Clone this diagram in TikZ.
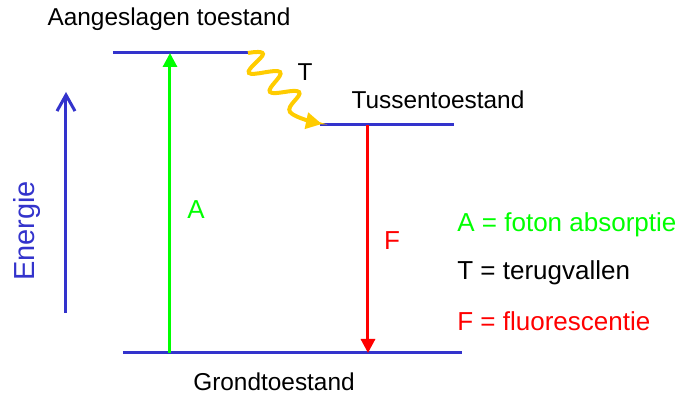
\documentclass[tikz,border=0pt]{standalone}
\usepackage{fontspec}
\setmainfont{Liberation Sans}
\usetikzlibrary{arrows.meta}
\definecolor{niveaublauw}{RGB}{51,51,204}
\definecolor{geel}{RGB}{255,204,0}

\begin{document}
\begin{tikzpicture}[x=0.5pt, y=-0.5pt,
    niveau/.style={niveaublauw, line width=1.5pt},
    label/.style={font=\fontsize{12.2}{14}\selectfont, inner sep=0pt},
    groot/.style={font=\fontsize{13}{16}\selectfont, inner sep=0pt},
    overgang/.style={line width=1.5pt, -{Triangle[length=7pt, width=7pt]}}]
    \useasboundingbox (0,0) rectangle (677,396);
    % energieniveaus
    \coordinate (aang1) at (113,53);
    \coordinate (aang2) at (248,53);
    \coordinate (tus1) at (320,125);
    \coordinate (tus2) at (454,125);
    \coordinate (grond1) at (123,353);
    \coordinate (grond2) at (462,353);
    \draw[niveau] (aang1) -- (aang2);
    \draw[niveau] (tus1) -- (tus2);
    \draw[niveau] (grond1) -- (grond2);
    \node[label] (aangeslagen) at (169,19) {Aangeslagen toestand};
    \node[label] (tussen) at (438,100) {Tussentoestand};
    \node[label] (grond) at (274,382) {Grondtoestand};
    % overgangen
    \coordinate (absonder) at (170,353);
    \coordinate (absboven) at (170,53);
    \coordinate (fluboven) at (368,125);
    \coordinate (fluonder) at (368,353);
    \draw[overgang, green] (absonder) -- (absboven);
    \draw[overgang, red] (fluboven) -- (fluonder);
    \draw[geel, line width=2pt, -{Triangle[length=8pt, width=8pt]}]
        plot[smooth, tension=0.7] coordinates {(aang2) (263,54) (249,73) (280,72)
        (270,92) (299,92) (290,112) (322,124)};
    \node[groot, green] (A) at (196,210) {A};
    \node[groot, red] (F) at (392,241) {F};
    \node[label] (T) at (305,72) {T};
    % energie-as
    \coordinate (asonder) at (66,313);
    \coordinate (asboven) at (66,92);
    \draw[niveaublauw, line width=1.5pt, -{Straight Barb[length=8pt, width=9pt]}] (asonder) -- (asboven);
    \node[font=\fontsize{14.5}{17}\selectfont, inner sep=0pt, niveaublauw, rotate=90] (energie) at (27,231) {Energie};
    % legenda
    \node[groot, green, anchor=west] (legA) at (457,225) {A = foton absorptie};
    \node[groot, anchor=west] (legT) at (457,273) {T = terugvallen};
    \node[groot, red, anchor=west] (legF) at (457,321) {F = fluorescentie};
\end{tikzpicture}
\end{document}
